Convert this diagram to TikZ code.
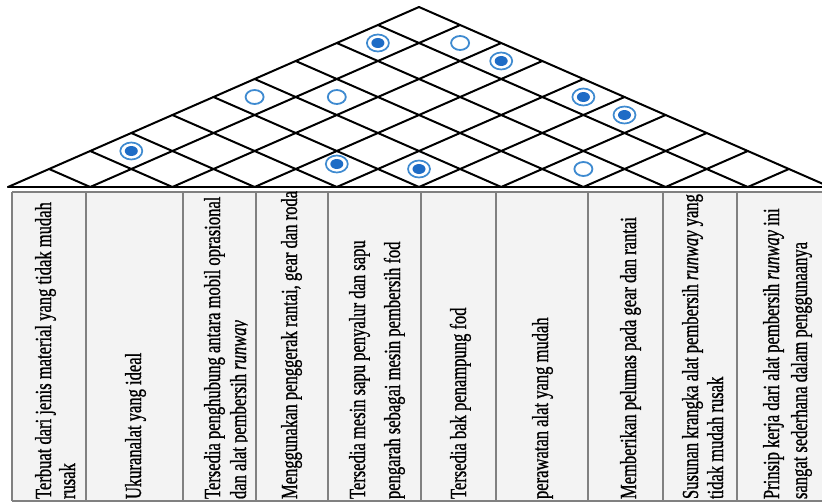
\documentclass[tikz,border=0pt]{standalone}
\usepackage{fontspec}
\newfontfamily\condserif[FakeStretch=0.72,FakeBold=0.9]{Liberation Serif}
\usetikzlibrary{shapes.geometric}
\definecolor{ringblue}{RGB}{62,138,208}
\definecolor{dotblue}{RGB}{30,108,198}
\definecolor{cellfill}{RGB}{243,243,243}
\definecolor{tabgray}{RGB}{128,128,128}
\tikzset{
  roofline/.style={line width=2pt, black, line cap=round},
  tabline/.style={line width=1.6pt, tabgray},
  txt/.style={font=\condserif\fontsize{23}{27}\selectfont, rotate=90, anchor=base west, inner sep=0pt, outer sep=0pt},
  dblsym/.style={ellipse, draw=ringblue, line width=1.7pt, fill=white, minimum width=22pt, minimum height=17pt, inner sep=0pt,
     path picture={\fill[dotblue] (path picture bounding box.center) ellipse (6.5pt and 5pt);}},
  opensym/.style={ellipse, draw=ringblue, line width=1.8pt, fill=white, minimum width=18pt, minimum height=14pt, inner sep=0pt}
}
\begin{document}
\begin{tikzpicture}[x=1pt,y=1pt]
\useasboundingbox (0,0) rectangle (822,-503);
\clip (0,0) rectangle (822,-503);
\fill[white] (0,0) rectangle (822,-503);
\def\w{82.2}
\def\hh{18}
% table
\fill[cellfill] (12,-192) rectangle (830,-501);
\foreach \x in {12,86,183,256,328,421,496,588,663,737}
  \draw[tabline] (\x,-192) -- (\x,-501);
\draw[tabline] (12,-192) -- (830,-192);
\draw[tabline] (12,-501) -- (830,-501);
% roof lattice
\foreach \p in {0,...,9}
  \draw[roofline] ({8+\p*\w},-187) -- ({8+(\p+10)/2*\w},{-187+(10-\p)*\hh});
\foreach \q in {1,...,10}
  \draw[roofline] ({8+\q*\w},-187) -- ({8+\q/2*\w},{-187+\q*\hh});
\draw[roofline] (8,-187) -- (830,-187);
% correlation symbols
\foreach \i/\j/\n in {1/3/s1,1/9/s2,3/10/s3,5/10/s4,6/10/s5,5/6/s6}
  \node[dblsym] (\n) at ({8+(\i+\j-1)/2*\w},{-187+(\j-\i)*\hh}) {};
\node[dblsym] (s7) at ({8+4*\w},{-187+\hh+5}) {};
\foreach \i/\j/\n in {1/6/o1,2/7/o2,2/10/o3,7/8/o4}
  \node[opensym] (\n) at ({8+(\i+\j-1)/2*\w},{-187+(\j-\i)*\hh}) {};
% texts
\node[txt] (t1a) at (51,-499) {Terbuat dari jenis material yang tidak mudah};
\node[txt] (t1b) at (75,-499) {rusak};
\node[txt] (t2a) at (141,-499) {Ukuranalat yang ideal};
\node[txt] (t3a) at (220,-499) {Tersedia penghubung antara mobil oprasional};
\begin{scope}
\clip (183,-192) rectangle (247.5,-501);
\node[txt] (t3b) at (246,-499) {dan alat pembersih \textit{runway}};
\end{scope}
\node[txt] (t4a) at (297,-499) {Menggunakan penggerak rantai, gear dan roda};
\node[txt] (t5a) at (365,-499) {Tersedia mesin sapu penyalur dan sapu};
\node[txt] (t5b) at (400,-499) {pengarah sebagai mesin pembersih fod};
\node[txt] (t6a) at (466,-499) {Tersedia bak penampung fod};
\node[txt] (t7a) at (548,-499) {perawatan alat yang mudah};
\node[txt] (t8a) at (636,-499) {Memberikan pelumas pada gear dan rantai};
\node[txt] (t9a) at (698,-499) {Susunan krangka alat pembersih \textit{runway} yang};
\node[txt] (t9b) at (723,-499) {tidak mudah rusak};
\node[txt] (t10a) at (779,-499) {Prinsip kerja dari alat pembersih \textit{runway} ini};
\node[txt] (t10b) at (807,-499) {sangat sederhana dalam penggunaanya};
\end{tikzpicture}
\end{document}
